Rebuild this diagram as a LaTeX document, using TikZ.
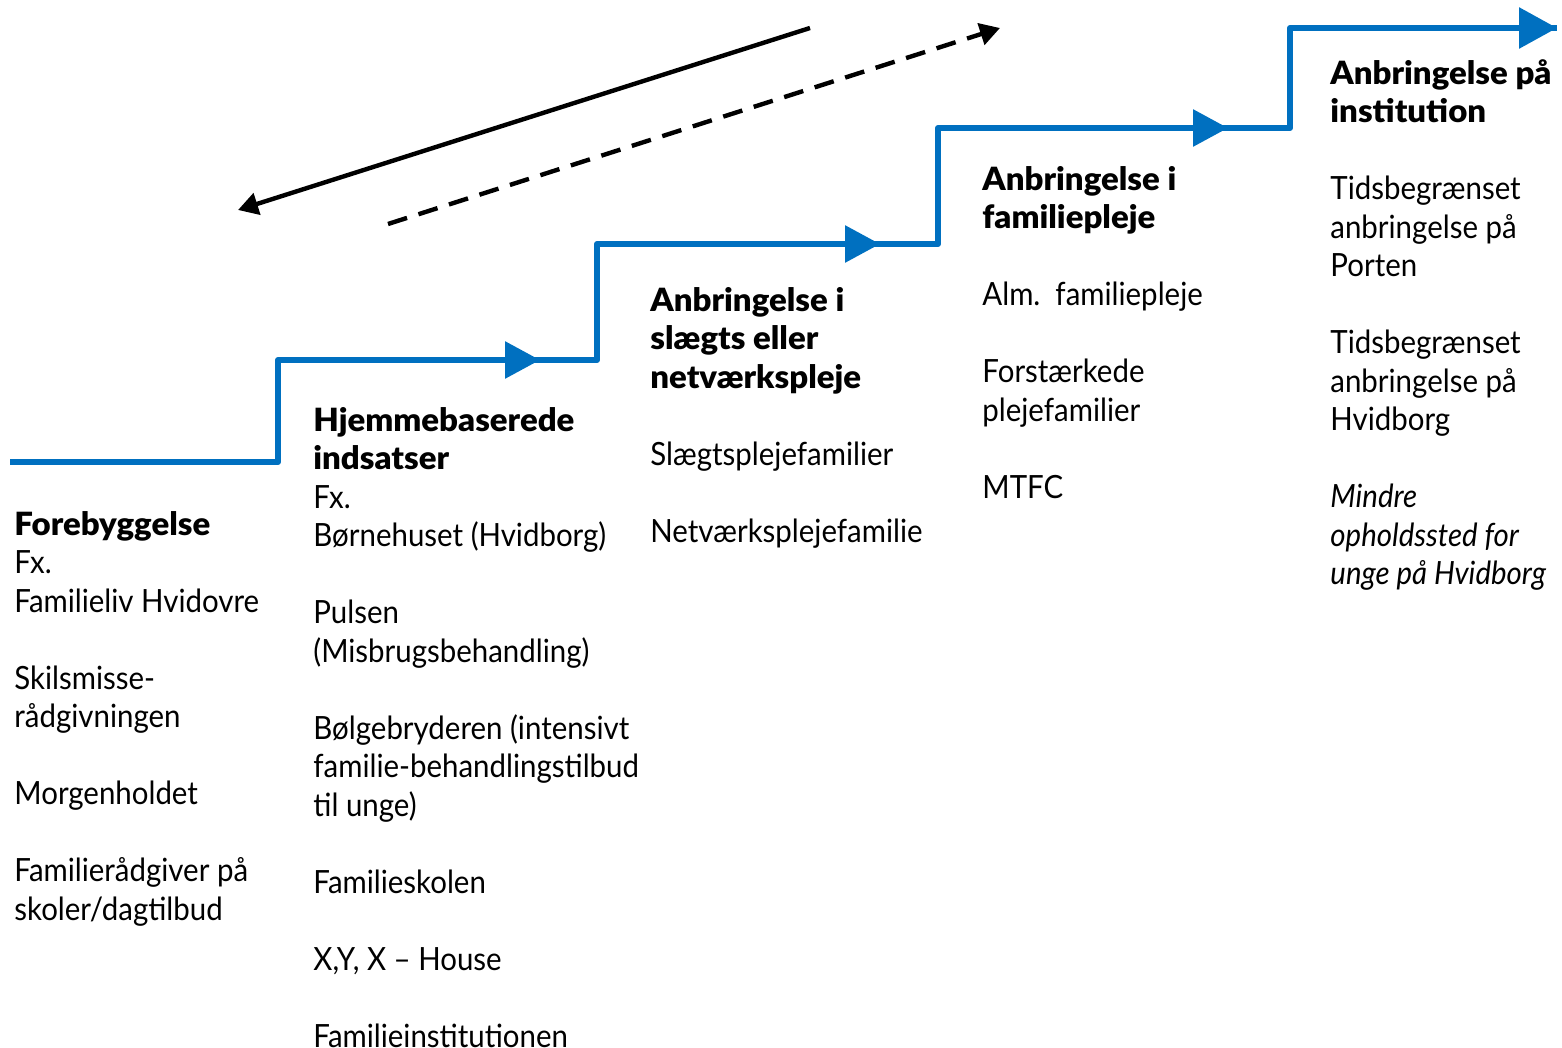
\documentclass[tikz,border=0pt]{standalone}
\usepackage{fontspec}
\setmainfont{Lato}[UprightFeatures={FakeStretch=0.92}, ItalicFeatures={FakeStretch=0.92},
  BoldFont={Lato Black}, BoldFeatures={FakeStretch=1.03}]
\usetikzlibrary{arrows.meta}

\definecolor{stepblue}{RGB}{0,112,192}

\begin{document}
\begin{tikzpicture}[
    x=0.5pt, y=-0.5pt,
    stairline/.style={draw=stepblue, line width=3pt, line join=round},
    midhead/.style={stairline, -{Triangle[length=17.5pt, width=18pt]}},
    endhead/.style={stairline, -{Triangle[length=19pt, width=20pt]}},
    backarrow/.style={draw, line width=2.2pt, -{Triangle[length=10pt, width=11pt]}},
    fwdarrow/.style={backarrow, dash pattern=on 10pt off 6pt},
    column/.style={anchor=north west, inner sep=0pt, align=left,
        font=\fontsize{16}{19.25}\selectfont}
]
\useasboundingbox (0,0) rectangle (1562,1048);

% staircase
\coordinate (s0) at (10,462);
\coordinate (s1) at (278,462);
\coordinate (s2) at (278,360);
\coordinate (s3) at (597,360);
\coordinate (s4) at (597,244);
\coordinate (s5) at (938,244);
\coordinate (s6) at (938,128);
\coordinate (s7) at (1290,128);
\coordinate (s8) at (1290,28);
\coordinate (s9) at (1557,28);
\coordinate (tip1) at (540,360);
\coordinate (tip2) at (880,244);
\coordinate (tip3) at (1228,128);

\draw[stairline] (s0) -- (s1) -- (s2) -- (s3) -- (s4) -- (s5) -- (s6) -- (s7) -- (s8) -- (s9);
\draw[midhead] (s2) -- (tip1);
\draw[midhead] (s4) -- (tip2);
\draw[midhead] (s6) -- (tip3);
\draw[endhead] (s8) -- (s9);

% back and forth
\coordinate (backStart) at (810,28);
\coordinate (backEnd) at (238,210);
\coordinate (fwdStart) at (388,224);
\coordinate (fwdEnd) at (1000,28);
\draw[backarrow] (backStart) -- (backEnd);
\draw[fwdarrow] (fwdStart) -- (fwdEnd);

\node (Forebyggelse) [column] at (14,508) {\strut\textbf{Forebyggelse}\\
  Fx.\\
  Familieliv Hvidovre\\[\baselineskip]
  Skilsmisse-\\
  rådgivningen\\[\baselineskip]
  Morgenholdet\\[\baselineskip]
  Familierådgiver på\\
  skoler/dagtilbud};

\node (Hjemmebaserede) [column] at (313,404) {\strut\textbf{Hjemmebaserede}\\
  \textbf{indsatser}\\
  Fx.\\
  Børnehuset (Hvidborg)\\[\baselineskip]
  Pulsen\\
  (Misbrugsbehandling)\\[\baselineskip]
  Bølgebryderen (intensivt\\
  familie-behandlingstilbud\\
  til unge)\\[\baselineskip]
  Familieskolen\\[\baselineskip]
  X,Y, X – House\\[\baselineskip]
  Familieinstitutionen};

\node (Slaegtspleje) [column] at (650,284) {\strut\textbf{Anbringelse i}\\
  \textbf{slægts eller}\\
  \textbf{netværkspleje}\\[\baselineskip]
  Slægtsplejefamilier\\[\baselineskip]
  Netværksplejefamilie};

\node (Familiepleje) [column] at (982,163) {\strut\textbf{Anbringelse i}\\
  \textbf{familiepleje}\\[\baselineskip]
  Alm.\ \ familiepleje\\[\baselineskip]
  Forstærkede\\
  plejefamilier\\[\baselineskip]
  MTFC};

\node (Institution) [column] at (1330,57) {\strut\textbf{Anbringelse på}\\
  \textbf{institution}\\[\baselineskip]
  Tidsbegrænset\\
  anbringelse på\\
  Porten\\[\baselineskip]
  Tidsbegrænset\\
  anbringelse på\\
  Hvidborg\\[\baselineskip]
  \textit{Mindre}\\
  \textit{opholdssted for}\\
  \textit{unge på Hvidborg}};

\end{tikzpicture}
\end{document}
